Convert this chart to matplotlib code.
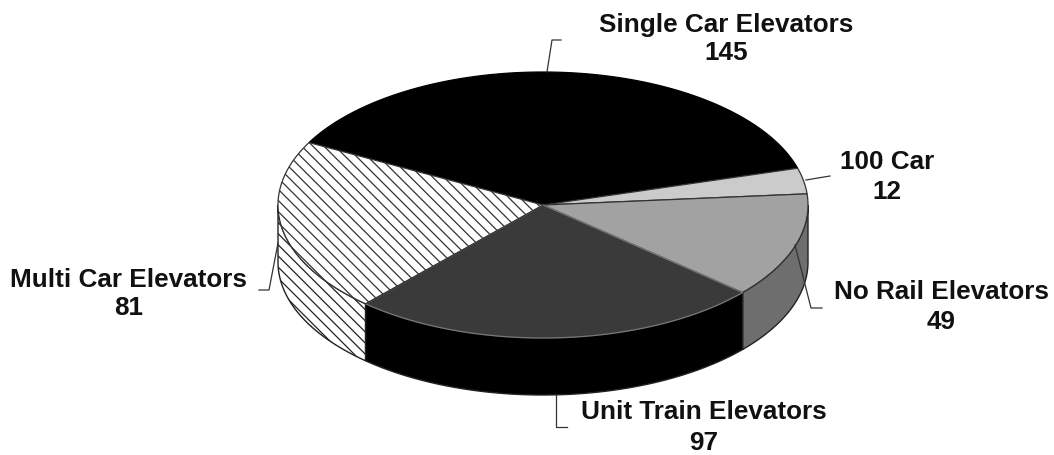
import numpy as np
import matplotlib
matplotlib.use("Agg")
import matplotlib.pyplot as plt
plt.rcParams['hatch.linewidth'] = 0.9

categories = ["Single Car Elevators", "100 Car", "No Rail Elevators", "Unit Train Elevators", "Multi Car Elevators"]
values = [145, 12, 49, 97, 81]
top_colors = ["#000000", "#cbcbcb", "#a2a2a2", "#3a3a3a", "#ffffff"]
side_colors = ["#000000", "#cbcbcb", "#6e6e6e", "#000000", "#ffffff"]
edge_colors = ["#000000", "#333333", "#333333", "#777777", "#333333"]
hatches = [None, None, None, None, "\\\\\\"]

START = 152.0
CX, CY, A, B, DEPTH = 543.0, 205.0, 265.0, 133.0, 57.0

fig = plt.figure(figsize=(10.54, 4.55), dpi=100)
ax = fig.add_axes([0, 0, 1, 1])
ax.set_xlim(0, 1054)
ax.set_ylim(455, 0)
ax.axis("off")

def rim(t1, t2, dy=0.0):
    t = np.radians(np.linspace(t1, t2, 160))
    return CX + A * np.cos(t), CY - B * np.sin(t) + dy

total = sum(values)
angles = START - np.cumsum([0] + values) * 360.0 / total

# Side walls: only the front half of the rim (-180 to 0 degrees) is visible
for i in range(len(values)):
    hi, lo = min(angles[i], 0.0), max(angles[i + 1], -180.0)
    if hi <= lo:
        continue
    x1, y1 = rim(hi, lo)
    x2, y2 = rim(lo, hi, DEPTH)
    ax.fill(np.r_[x1, x2], np.r_[y1, y2], facecolor=side_colors[i],
            edgecolor="#222222", lw=1.0, hatch=hatches[i], zorder=2)

# Top faces
for i in range(len(values)):
    x, y = rim(angles[i], angles[i + 1])
    ax.fill(np.r_[CX, x], np.r_[CY, y], facecolor=top_colors[i],
            edgecolor=edge_colors[i], lw=0.9, hatch=hatches[i], zorder=3)

label_pos = [(726, 25), (887, 162), (941, 292), (704, 412), (129, 280)]
value_gap = [28, 30, 30, 31, 28]
for name, val, (lx, ly), gap in zip(categories, values, label_pos, value_gap):
    ax.text(lx, ly, name, ha="center", va="center", fontsize=19 * 0.99,
            fontweight="bold", family="Liberation Sans", color="#111111", zorder=5)
    ax.text(lx, ly + gap, str(val), ha="center", va="center", fontsize=19 * 0.99,
            fontweight="bold", family="Liberation Sans", color="#111111", zorder=5)

leaders = [
    ([547, 552, 561], [72, 40, 40]),
    ([806, 830], [180, 176]),
    ([795, 811, 822], [245, 308, 308]),
    ([556, 556, 567], [395, 427, 427]),
    ([278, 269, 259], [243, 290, 290]),
]
for lx, ly in leaders:
    ax.plot(lx, ly, color="#333333", lw=0.9, zorder=4)

fig.savefig("out.png", dpi=100)
